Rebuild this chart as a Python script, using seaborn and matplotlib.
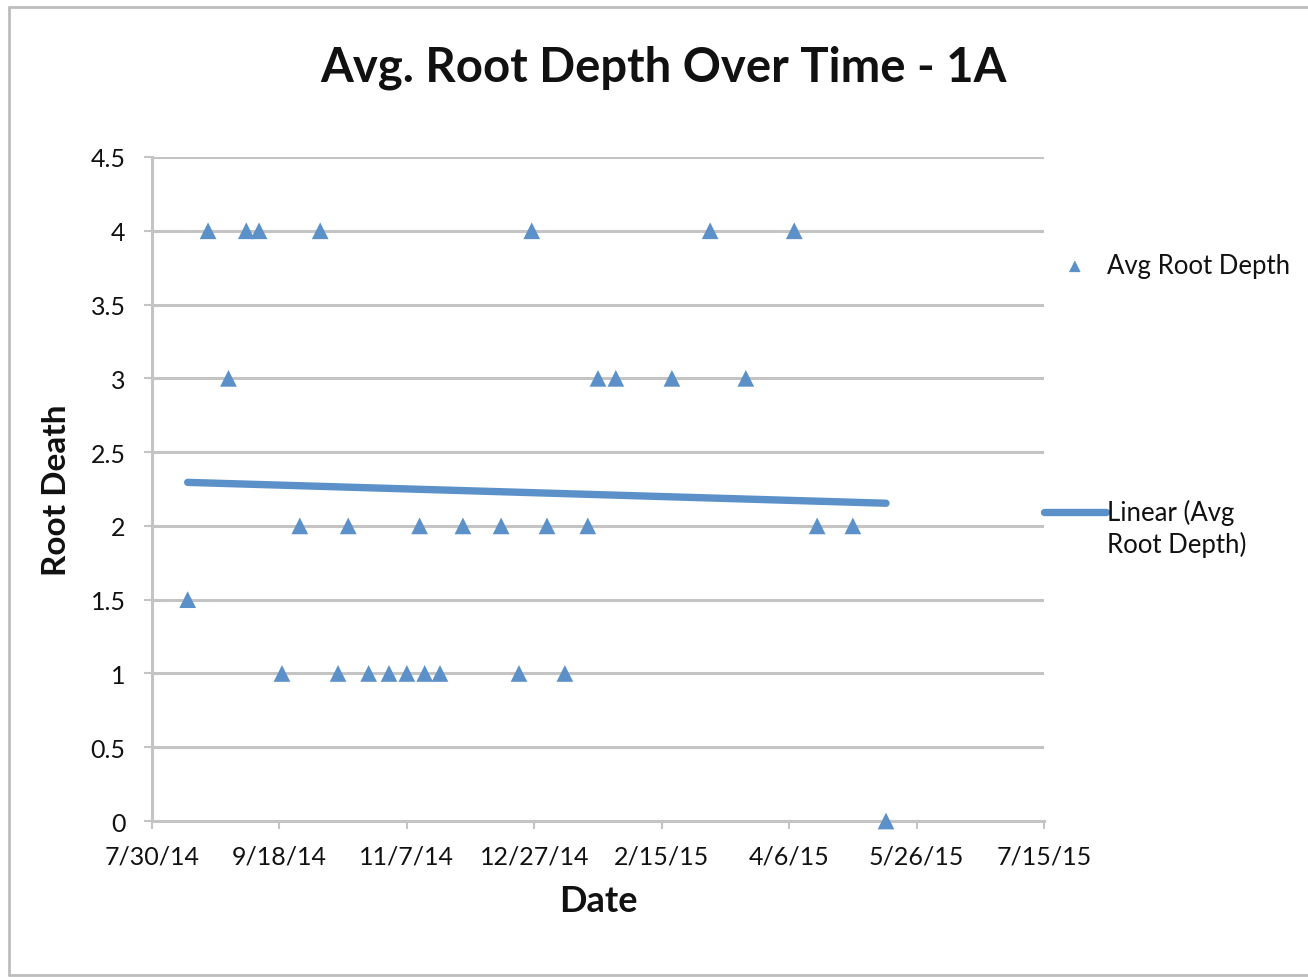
import numpy as np
import pandas as pd
import matplotlib
matplotlib.use("Agg")
import matplotlib.pyplot as plt
import matplotlib.dates as mdates
from matplotlib.lines import Line2D
from matplotlib.legend_handler import HandlerLine2D
import seaborn as sns

# ---- data ----
dates = ["8/13/14", "8/21/14", "8/29/14", "9/5/14", "9/10/14", "9/19/14", "9/26/14",
         "10/4/14", "10/11/14", "10/15/14", "10/23/14", "10/31/14", "11/7/14", "11/12/14",
         "11/14/14", "11/20/14", "11/29/14", "12/14/14", "12/21/14", "12/26/14", "1/1/15",
         "1/8/15", "1/17/15", "1/21/15", "1/28/15", "2/19/15", "3/6/15", "3/20/15",
         "4/8/15", "4/17/15", "5/1/15", "5/14/15"]
root_depth = [1.5, 4, 3, 4, 4, 1, 2,
              4, 1, 2, 1, 1, 1, 2,
              1, 1, 2, 2, 1, 4, 2,
              1, 2, 3, 3, 3, 4, 3,
              4, 2, 2, 0]
x_tick_labels = ["7/30/14", "9/18/14", "11/7/14", "12/27/14", "2/15/15", "4/6/15", "5/26/15", "7/15/15"]
y_ticks = [0, 0.5, 1, 1.5, 2, 2.5, 3, 3.5, 4, 4.5]
y_tick_labels = ["0", "0.5", "1", "1.5", "2", "2.5", "3", "3.5", "4", "4.5"]

title = "Avg. Root Depth Over Time - 1A"
series_label = "Avg Root Depth"
trend_label = "Linear (Avg\nRoot Depth)"

# ---- style ----
sns.set_theme(style="white")
plt.rcParams["font.family"] = ["Lato", "DejaVu Sans"]

blue = "#5b91c8"
grid_c = "#c4c4c4"
txt_c = "#111111"

W, H = 1308, 978
fig = plt.figure(figsize=(W / 100, H / 100), dpi=100)
ax = fig.add_axes([152 / W, 1 - 822 / H, (1044 - 152) / W, (822 - 158) / H])

xnum = mdates.date2num(pd.to_datetime(dates, format="%m/%d/%y"))
yvals = np.array(root_depth, dtype=float)
df = pd.DataFrame({"x": xnum, "y": yvals})
tick_pos = mdates.date2num(pd.to_datetime(x_tick_labels, format="%m/%d/%y"))

# trend line
sns.regplot(data=df, x="x", y="y", ax=ax, scatter=False, ci=None, truncate=True,
            line_kws=dict(color=blue, linewidth=5.3, solid_capstyle="round", zorder=3))
trend_line = ax.lines[-1]
trend_line.set_label(trend_label)
# points
sns.scatterplot(data=df, x="x", y="y", ax=ax, marker="^", s=145, color=blue,
                edgecolor="none", linewidth=0, clip_on=False, zorder=4)
pts = ax.collections[-1]
pts.set_label(series_label)

ax.set_xlim(tick_pos[0], tick_pos[-1])
ax.set_ylim(0, 4.5)
ax.set_xticks(tick_pos)
ax.set_xticklabels(x_tick_labels)
ax.set_yticks(y_ticks)
ax.set_yticklabels(y_tick_labels)

ax.grid(axis="y", color=grid_c, linewidth=2.2)
ax.grid(axis="x", visible=False)
ax.set_axisbelow(True)
for side in ["top", "right"]:
    ax.spines[side].set_visible(False)
for side in ["left", "bottom"]:
    ax.spines[side].set_color(grid_c)
    ax.spines[side].set_linewidth(2.2)

ax.tick_params(axis="both", which="major", direction="out", length=6, width=1.5,
               color=grid_c, labelsize=18, labelcolor=txt_c)
ax.tick_params(axis="y", pad=13, left=True)
ax.tick_params(axis="x", pad=11, bottom=True)

ax.set_xlabel("Date", fontsize=26, fontweight="bold", va="center", color=txt_c)
ax.xaxis.set_label_coords(0.5, (822 - 902) / (822 - 158))
ax.set_ylabel("Root Death", fontsize=24, fontweight="bold", va="center", color=txt_c)
ax.yaxis.set_label_coords((57 - 152) / (1044 - 152), 0.5)

fig.text(664 / W, 1 - 68 / H, title, ha="center", va="center",
         fontsize=34, fontweight="bold", color=txt_c)


# legend: the trend handle sits next to the first text line, as in the original
class UpperLineHandler(HandlerLine2D):
    def __init__(self, dy, **kw):
        super().__init__(**kw)
        self.dy = dy

    def create_artists(self, legend, orig_handle, xdescent, ydescent, width, height, fontsize, trans):
        arts = super().create_artists(legend, orig_handle, xdescent, ydescent, width, height, fontsize, trans)
        for a in arts:
            a.set_ydata(np.asarray(a.get_ydata(), dtype=float) + self.dy)
        return arts


leg = ax.legend([pts, trend_line], [series_label, trend_label],
                loc="upper left", bbox_to_anchor=(1.0, (822 - 254) / (822 - 158)),
                frameon=False, fontsize=18.5, labelspacing=8.6, handlelength=2.4,
                handletextpad=0.05, borderpad=0, borderaxespad=0, markerscale=0.7,
                handler_map={trend_line: UpperLineHandler(dy=12)})
for t in leg.get_texts():
    t.set_color(txt_c)
    t.set_linespacing(1.27)

# chart border
fig.add_artist(Line2D([9 / W, 9 / W], [1 - 8 / H, 1 - 976 / H], color="#bdbdbd", lw=2, transform=fig.transFigure))
fig.add_artist(Line2D([9 / W, 1], [1 - 8 / H, 1 - 8 / H], color="#bdbdbd", lw=2, transform=fig.transFigure))
fig.add_artist(Line2D([9 / W, 1], [1 - 976 / H, 1 - 976 / H], color="#bdbdbd", lw=2, transform=fig.transFigure))

fig.savefig("out.png", dpi=100, facecolor="white")
